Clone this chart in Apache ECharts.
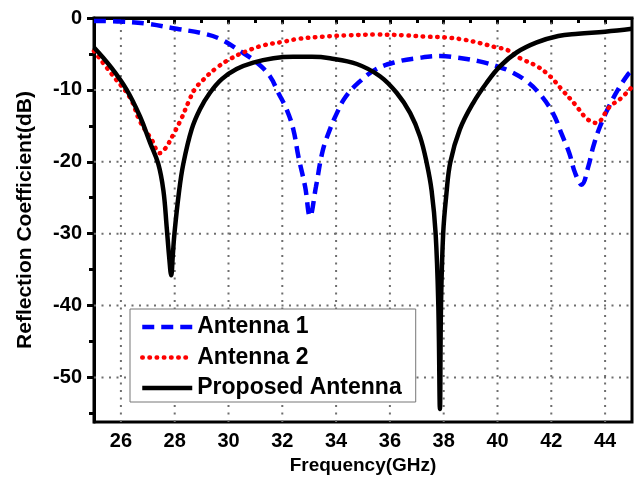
<!DOCTYPE html>
<html>
<head>
<meta charset="utf-8">
<script src="https://cdn.jsdelivr.net/npm/echarts@6/dist/echarts.min.js"></script>
<style>
  html, body { margin: 0; padding: 0; background: #fff; }
  #chart { width: 636px; height: 486px; }
</style>
</head>
<body>
<div id="chart"></div>
<script>
// tick values
const xMajor = [26, 28, 30, 32, 34, 36, 38, 40, 42, 44]
const xMinor = [27, 29, 31, 33, 35, 37, 39, 41, 43]
const yMajor = [-50, -40, -30, -20, -10, 0]
const yMinor = [-55, -45, -35, -25, -15, -5]
const xRange = [25, 45]
const yRange = [-56.2, 0]

// Antenna 1 (blue dashed)
const ant1Freq = [25, 26, 27, 28.07, 29, 29.68, 30.43, 31.05, 31.54, 31.85, 32.16, 32.41, 32.6, 32.85, 33.03,
  33.25, 33.5, 33.77, 34.02, 34.33, 34.83, 35.5, 36.25, 37, 37.86, 38.48, 39.29, 39.97, 40.52, 41.08,
  41.58, 42.07, 42.39, 42.67, 42.88, 43.13, 43.38, 43.56, 43.81, 44.12, 44.49, 44.86, 45]
const ant1Db = [-0.4, -0.5, -0.8, -1.5, -2.1, -2.9, -4.6, -6.2, -8.1, -10.4, -12.7, -15.5, -19.3, -23.5, -27.6,
  -23.5, -18.5, -15.5, -13.3, -11.1, -9, -7.1, -6.1, -5.6, -5.3, -5.5, -6, -6.7, -7.5, -8.8,
  -10.6, -13.3, -16.2, -18.8, -21.5, -23.2, -20.6, -17.9, -15.1, -12.5, -9.9, -7.8, -7.3]

// Antenna 2 (red dotted)
const ant2Freq = [25, 25.72, 26.34, 26.71, 27.14, 27.45, 27.64, 27.95, 28.26, 28.5, 28.75, 29.06, 29.5,
  30.06, 30.68, 31.3, 32.04, 32.6, 33.5, 34.5, 35.5, 36.5, 37.34, 38.05, 38.73, 39.35, 39.97, 40.34,
  40.84, 41.46, 41.95, 42.45, 42.88, 43.32, 43.66, 44.18, 44.55, 45]
const ant2Db = [-4.6, -8.1, -11.1, -14.4, -16.9, -18.8, -18.2, -16.2, -13.9, -11.8, -9.9, -8.6, -7.1,
  -5.7, -4.6, -3.8, -3.3, -2.9, -2.6, -2.4, -2.3, -2.4, -2.6, -2.7, -3, -3.5, -4.1, -4.4,
  -5.6, -6.7, -8.1, -10.2, -12, -14, -14.6, -12.3, -11.3, -9.6]

// Proposed antenna (black solid)
const propFreq = [25, 25.6, 26.2, 26.71, 27.08, 27.39, 27.58, 27.7, 27.8, 27.87, 27.93, 27.99, 28.15, 28.32,
  28.63, 28.94, 29.31, 29.75, 30.3, 30.92, 31.67, 32.4, 33.1, 33.77, 34.77, 35.63, 36.25, 36.75, 37.12,
  37.37, 37.55, 37.7, 37.8, 37.86, 37.9, 37.98, 38.1, 38.25, 38.6, 39.1, 39.6, 40.1, 40.71, 41.46,
  42.26, 43, 44, 45]
const propDb = [-4.1, -6.7, -9.9, -13.7, -17.3, -20.3, -24, -29, -33.5, -35.8, -33, -30, -24.5, -20.3,
  -15.5, -12.7, -10.4, -8.5, -7.1, -6.2, -5.6, -5.4, -5.4, -5.6, -6.4, -8.1, -10.4, -13.2, -16.5,
  -20.2, -24, -30, -40, -54.4, -40, -30, -24.5, -20, -15.5, -11.8, -9, -6.7, -4.8, -3.4,
  -2.5, -2.2, -1.9, -1.5]

const pairs = (xs, ys) => xs.map((x, i) => [x, ys[i]])

const font = 'Liberation Sans, Arial, sans-serif'

// dotted grid lines at the major ticks, drawn as plain line series behind the curves
const gridLine = data => ({
  type: 'line', data, z: 1, silent: true, symbol: 'none',
  lineStyle: { color: '#6e6e6e', width: 2, type: [2, 5.5] },
  emphasis: { disabled: true }, tooltip: { show: false }
})
const gridSeries = xMajor.map(v => gridLine([[v, yRange[0]], [v, yRange[1]]]))
  .concat(yMajor.filter(v => v !== 0).map(v => gridLine([[xRange[0], v], [xRange[1], v]])))

const chart = echarts.init(document.getElementById('chart'), null, { renderer: 'canvas' })
chart.setOption({
  animation: false,
  backgroundColor: '#fff',
  grid: {
    left: 94, right: 4, top: 18, bottom: 64,
    show: true, borderColor: '#000', borderWidth: 3, backgroundColor: 'transparent'
  },
  legend: {
    left: 130, top: 309,
    orient: 'vertical',
    itemWidth: 50, itemHeight: 14, itemGap: 6.5,
    padding: [6, 14, 2, 10],
    borderColor: '#777', borderWidth: 1,
    backgroundColor: '#fff',
    z: 10,
    itemStyle: { opacity: 0 },
    lineStyle: { width: 4.5 },
    textStyle: { fontFamily: font, fontWeight: 'bold', fontSize: 23, color: '#000', lineHeight: 24 },
    data: ['Antenna 1', 'Antenna 2', 'Proposed Antenna']
  },
  xAxis: [
    {
      type: 'value', min: xRange[0], max: xRange[1], position: 'bottom',
      name: 'Frequency(GHz)', nameLocation: 'middle', nameGap: 34,
      nameTextStyle: { fontFamily: font, fontWeight: 'bold', fontSize: 19, color: '#000' },
      axisLine: { show: true, lineStyle: { color: '#000', width: 3 } },
      axisTick: { show: true, customValues: xMajor, length: 6, lineStyle: { color: '#000', width: 3 } },
      axisLabel: { customValues: xMajor, margin: 9, fontFamily: font, fontWeight: 'bold', fontSize: 20, color: '#000' },
      splitLine: { show: false }
    },
    {
      type: 'value', min: xRange[0], max: xRange[1], position: 'bottom',
      axisLine: { show: false },
      axisTick: { show: true, customValues: xMinor, length: 5, lineStyle: { color: '#000', width: 3 } },
      axisLabel: { show: false },
      splitLine: { show: false }
    }
  ],
  yAxis: [
    {
      type: 'value', min: yRange[0], max: yRange[1], position: 'left',
      name: 'Reflection Coefficient(dB)', nameLocation: 'middle', nameGap: 58, nameRotate: 90,
      nameTextStyle: { fontFamily: font, fontWeight: 'bold', fontSize: 21, color: '#000' },
      axisLine: { show: true, lineStyle: { color: '#000', width: 3 } },
      axisTick: { show: true, customValues: yMajor, length: 7, lineStyle: { color: '#000', width: 3 } },
      axisLabel: { customValues: yMajor, margin: 12, fontFamily: font, fontWeight: 'bold', fontSize: 20, color: '#000' },
      splitLine: { show: false }
    },
    {
      type: 'value', min: yRange[0], max: yRange[1], position: 'left',
      axisLine: { show: false },
      axisTick: { show: true, customValues: yMinor, length: 5, lineStyle: { color: '#000', width: 3 } },
      axisLabel: { show: false },
      splitLine: { show: false }
    }
  ],
  series: gridSeries.concat([
    {
      name: 'Antenna 1', type: 'line', data: pairs(ant1Freq, ant1Db), z: 3,
      symbol: 'none', smooth: 0.4,
      lineStyle: { color: '#0000ff', width: 4.5, type: [12, 7] },
      itemStyle: { color: '#0000ff' }
    },
    {
      name: 'Antenna 2', type: 'line', data: pairs(ant2Freq, ant2Db), z: 3,
      symbol: 'none', smooth: 0.4,
      lineStyle: { color: '#ff0000', width: 4.5, type: [0.5, 6.7], cap: 'round' },
      itemStyle: { color: '#ff0000' }
    },
    {
      name: 'Proposed Antenna', type: 'line', data: pairs(propFreq, propDb), z: 3,
      symbol: 'none', smooth: 0.4,
      lineStyle: { color: '#000', width: 4.5 },
      itemStyle: { color: '#000' }
    }
  ])
})
</script>
</body>
</html>
